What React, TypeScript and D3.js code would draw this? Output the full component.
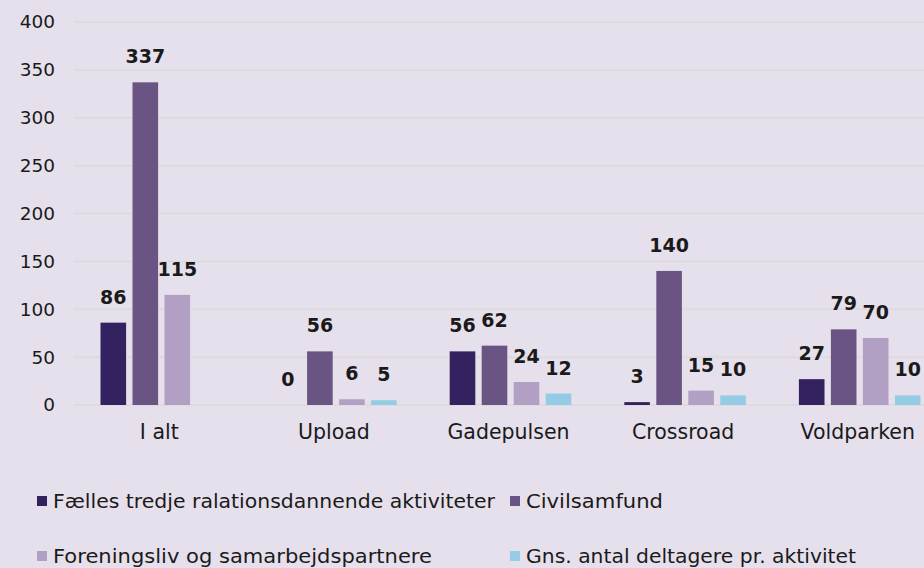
import React, { useEffect, useRef } from "react";
import * as d3 from "d3";

const categories = ["I alt", "Upload", "Gadepulsen", "Crossroad", "Voldparken"];
const seriesNames = [
  "Fælles tredje ralationsdannende aktiviteter",
  "Civilsamfund",
  "Foreningsliv og samarbejdspartnere",
  "Gns. antal deltagere pr. aktivitet",
];
const faelles = [86, 0, 56, 3, 27];
const civilsamfund = [337, 56, 62, 140, 79];
const forening = [115, 6, 24, 15, 70];
const deltagere = [null, 5, 12, 10, 10];
const yTicks = [0, 50, 100, 150, 200, 250, 300, 350, 400];
const colors = ["#33225f", "#6a5483", "#b1a0c4", "#93cce4"];

const App = () => {
  const svgRef = useRef<SVGSVGElement>(null);

  useEffect(() => {
    const svg = d3.select(svgRef.current);
    svg.selectAll("*").remove();

    const width = 924;
    const height = 568;
    const font = "'DejaVu Sans', sans-serif";
    const values = [faelles, civilsamfund, forening, deltagere];

    svg.append("rect").attr("width", width).attr("height", height).attr("fill", "#e6e0ec");

    const x0 = d3.scaleBand().domain(categories).range([74, 947]);
    const x1 = d3.scaleBand().domain(seriesNames).range([-60.8, 60.8]).paddingInner(0.2);
    const y = d3.scaleLinear().domain([0, 400]).range([405, 22]);

    // grid
    svg.append("g")
      .selectAll("line")
      .data(yTicks)
      .enter()
      .append("line")
      .attr("x1", 74)
      .attr("x2", width)
      .attr("y1", d => y(d))
      .attr("y2", d => y(d))
      .attr("stroke", "#dcdad9")
      .attr("stroke-width", 1.5);

    // y labels
    svg.append("g")
      .selectAll("text")
      .data(yTicks)
      .enter()
      .append("text")
      .attr("x", 55)
      .attr("y", d => y(d))
      .attr("dy", "0.35em")
      .attr("text-anchor", "end")
      .style("font-family", font)
      .style("font-size", "18.5px")
      .attr("fill", "#1a1a1a")
      .text(d => d);

    // bars + labels
    seriesNames.forEach((name, si) => {
      const g = svg.append("g");
      const rows = categories
        .map((c, i) => ({ c, v: values[si][i] }))
        .filter(d => d.v !== null) as { c: string; v: number }[];
      const xPos = (d: { c: string }) => x0(d.c)! + x0.bandwidth() / 2 + x1(name)!;

      g.selectAll("rect")
        .data(rows)
        .enter()
        .append("rect")
        .attr("x", xPos)
        .attr("y", d => y(d.v))
        .attr("width", x1.bandwidth())
        .attr("height", d => y(0) - y(d.v))
        .attr("fill", colors[si]);

      g.selectAll("text")
        .data(rows)
        .enter()
        .append("text")
        .attr("x", d => xPos(d) + x1.bandwidth() / 2)
        .attr("y", d => y(d.v) - 19)
        .attr("text-anchor", "middle")
        .style("font-family", font)
        .style("font-size", "19px")
        .style("font-weight", "bold")
        .attr("fill", "#1a1a1a")
        .text(d => d.v);
    });

    // category labels
    svg.append("g")
      .selectAll("text")
      .data(categories)
      .enter()
      .append("text")
      .attr("x", d => x0(d)! + x0.bandwidth() / 2 - 2)
      .attr("y", 439)
      .attr("text-anchor", "middle")
      .style("font-family", font)
      .style("font-size", "20.5px")
      .attr("fill", "#1a1a1a")
      .text(d => d);

    // legend
    const legendPos = [
      { x: 37, y: 501, w: 442 },
      { x: 510, y: 501, w: 137 },
      { x: 37, y: 556, w: 379 },
      { x: 510, y: 556, w: 330 },
    ];
    seriesNames.forEach((name, i) => {
      const p = legendPos[i];
      svg.append("rect")
        .attr("x", p.x)
        .attr("y", p.y - 5)
        .attr("width", 10)
        .attr("height", 10)
        .attr("fill", colors[i]);
      svg.append("text")
        .attr("x", p.x + 16)
        .attr("y", p.y)
        .attr("dy", "0.35em")
        .attr("textLength", p.w)
        .attr("lengthAdjust", "spacingAndGlyphs")
        .style("font-family", font)
        .style("font-size", "19px")
        .attr("fill", "#1a1a1a")
        .text(name);
    });
  }, []);

  return (
    <svg
      ref={svgRef}
      width={924}
      height={568}
      style={{ position: "fixed", left: 0, top: 0 }}
    />
  );
};

export default App;
